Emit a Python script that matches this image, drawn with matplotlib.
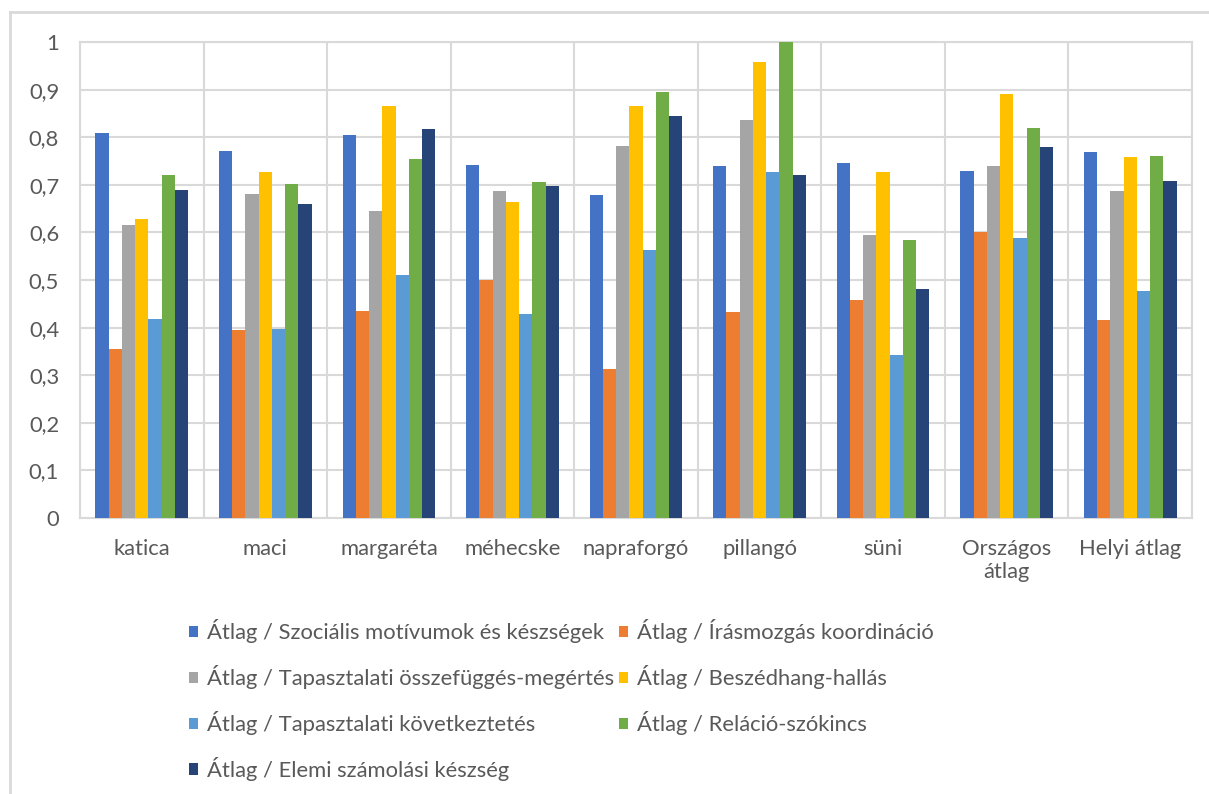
"""
Grouped bar chart: Átlag értékek csoportonként
"""
import numpy as np
import matplotlib
matplotlib.use('Agg')
import matplotlib.pyplot as plt
from matplotlib.lines import Line2D

plt.rcParams['font.family'] = ['Lato', 'DejaVu Sans']

categories = ['katica', 'maci', 'margaréta', 'méhecske', 'napraforgó',
              'pillangó', 'süni', 'Országos\nátlag', 'Helyi átlag']

series_names = [
    'Átlag / Szociális motívumok és készségek',
    'Átlag / Írásmozgás koordináció',
    'Átlag / Tapasztalati összefüggés-megértés',
    'Átlag / Beszédhang-hallás',
    'Átlag / Tapasztalati következtetés',
    'Átlag / Reláció-szókincs',
    'Átlag / Elemi számolási készség',
]

szocialis = [0.809, 0.771, 0.804, 0.742, 0.678, 0.739, 0.745, 0.728, 0.769]
irasmozgas = [0.355, 0.396, 0.435, 0.501, 0.312, 0.433, 0.457, 0.600, 0.416]
osszefugges = [0.616, 0.680, 0.645, 0.688, 0.782, 0.836, 0.594, 0.739, 0.686]
beszedhang = [0.629, 0.726, 0.865, 0.664, 0.865, 0.959, 0.726, 0.890, 0.758]
kovetkeztetes = [0.419, 0.398, 0.511, 0.428, 0.563, 0.726, 0.342, 0.589, 0.476]
szokincs = [0.720, 0.702, 0.755, 0.706, 0.895, 1.000, 0.583, 0.820, 0.761]
szamolasi = [0.690, 0.659, 0.817, 0.697, 0.844, 0.720, 0.481, 0.780, 0.707]

yticks = [0, 0.1, 0.2, 0.3, 0.4, 0.5, 0.6, 0.7, 0.8, 0.9, 1]
ytick_labels = ['0', '0,1', '0,2', '0,3', '0,4', '0,5', '0,6', '0,7', '0,8', '0,9', '1']

values = [szocialis, irasmozgas, osszefugges, beszedhang,
          kovetkeztetes, szokincs, szamolasi]
colors = ['#4472C4', '#ED7D31', '#A5A5A5', '#FFC000',
          '#5B9BD5', '#70AD47', '#264478']

text_color = '#595959'
grid_color = '#D9D9D9'
fs = 15.8

fig = plt.figure(figsize=(12.09, 7.94), dpi=100)
ax = fig.add_axes([80 / 1209, 1 - 518 / 794, 1112 / 1209, 476 / 794])

x = np.arange(len(categories))
n = len(values)
bar_w = 0.75 / n
bars = []
for i, (vals, col, name) in enumerate(zip(values, colors, series_names)):
    offset = (i - (n - 1) / 2) * bar_w
    bars.append(ax.bar(x + offset, vals, width=bar_w, color=col, label=name, zorder=3))

ax.set_xlim(-0.5, len(categories) - 0.5)
ax.set_ylim(0, 1)
ax.set_yticks(yticks)
ax.set_yticklabels(ytick_labels)
ax.set_xticks(x)
ax.set_xticklabels(categories, linespacing=1.2)
ax.set_xticks(np.arange(-0.5, len(categories), 1), minor=True)

ax.grid(axis='y', which='major', color=grid_color, linewidth=1.5, zorder=0)
ax.grid(axis='x', which='minor', color=grid_color, linewidth=1.5, zorder=0)
ax.grid(axis='x', which='major', visible=False)

for s in ax.spines.values():
    s.set_color(grid_color)
    s.set_linewidth(1.5)

ax.tick_params(axis='both', which='both', length=0, colors=text_color, labelsize=fs)
ax.tick_params(axis='y', pad=15)
ax.tick_params(axis='x', pad=15)

# legend is filled row by row in the original, matplotlib fills by column
order = [0, 2, 4, 6, 1, 3, 5]
fig.legend([bars[i] for i in order], [series_names[i] for i in order],
           loc='upper left', bbox_to_anchor=(189 / 1209, 1 - 619 / 794),
           ncol=2, frameon=False, fontsize=fs, labelcolor=text_color,
           handlelength=0.4, handleheight=0.4, handletextpad=0.4,
           columnspacing=0.25, labelspacing=1.0, borderpad=0,
           borderaxespad=0)

# chart area border (only top and left edges visible)
fig.add_artist(Line2D([10 / 1209, 10 / 1209], [0, 1 - 12 / 794],
                      transform=fig.transFigure, color=grid_color, linewidth=2))
fig.add_artist(Line2D([10 / 1209, 1], [1 - 12 / 794, 1 - 12 / 794],
                      transform=fig.transFigure, color=grid_color, linewidth=2))

plt.savefig('out.png', dpi=100)
